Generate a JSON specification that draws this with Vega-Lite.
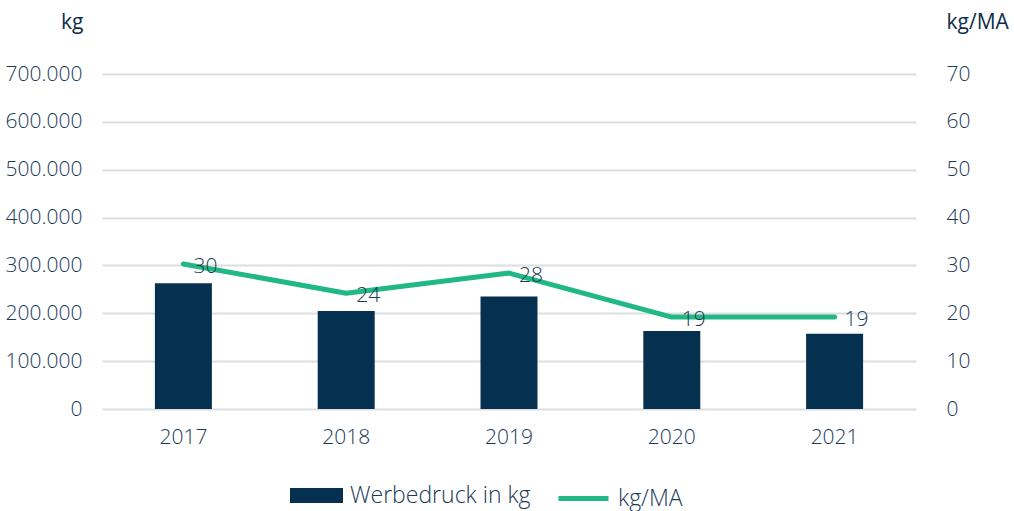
{
  "$schema": "https://vega.github.io/schema/vega-lite/v6.json",
  "width": 814,
  "height": 335,
  "autosize": {"type": "none"},
  "padding": {"left": 102, "top": 74, "right": 98, "bottom": 102},
  "background": "#ffffff",
  "config": {
    "font": "Open Sans",
    "view": {"stroke": null},
    "locale": {"number": {"decimal": ",", "thousands": ".", "grouping": [3], "currency": ["", " €"]}},
    "axis": {
      "labelColor": "#1B3A58",
      "labelFontSize": 21,
      "labelFont": "Open Sans",
      "labelFontWeight": 300,
      "titleColor": "#0E2D4A",
      "titleFont": "Open Sans",
      "titleFontSize": 21,
      "titleFontWeight": "normal",
      "domain": false,
      "ticks": false,
      "gridColor": "#DADDE2",
      "gridWidth": 2
    },
    "legend": {
      "labelColor": "#1B3A58",
      "labelFontSize": 23,
      "labelFont": "Open Sans",
      "labelFontWeight": 300,
      "labelLimit": 400,
      "padding": 0
    }
  },
  "data": {
    "values": [
      {"year": "2017", "kg": 263000, "kgma": 30.3},
      {"year": "2018", "kg": 205000, "kgma": 24.2},
      {"year": "2019", "kg": 235000, "kgma": 28.4},
      {"year": "2020", "kg": 163000, "kgma": 19.2},
      {"year": "2021", "kg": 157000, "kgma": 19.2}
    ]
  },
  "encoding": {
    "x": {
      "field": "year",
      "type": "nominal",
      "scale": {"paddingInner": 0.65, "paddingOuter": 0.325},
      "axis": {"title": null, "labelAngle": 0, "labelPadding": 17, "grid": false}
    }
  },
  "layer": [
    {
      "mark": {"type": "bar", "color": "#06304F"},
      "encoding": {
        "y": {
          "field": "kg",
          "type": "quantitative",
          "scale": {"domain": [0, 700000]},
          "axis": {
            "title": "kg",
            "values": [0, 100000, 200000, 300000, 400000, 500000, 600000, 700000],
            "format": ",d",
            "labelPadding": 20,
            "titleAngle": 0,
            "titleAlign": "right",
            "titleBaseline": "middle",
            "titleX": -19,
            "titleY": -52,
            "grid": true
          }
        },
        "color": {
          "datum": "Werbedruck in kg",
          "scale": {"range": ["#06304F"]},
          "legend": {
            "title": null,
            "orient": "none",
            "legendX": 188,
            "legendY": 395,
            "symbolType": "M-1,-0.283H1V0.283H-1Z",
            "symbolSize": 2809,
            "symbolStrokeWidth": 0,
            "labelOffset": 7
          }
        }
      }
    },
    {
      "mark": {"type": "line", "strokeWidth": 5, "strokeCap": "round", "strokeJoin": "round"},
      "encoding": {
        "y": {
          "field": "kgma",
          "type": "quantitative",
          "scale": {"domain": [0, 70]},
          "axis": {
            "title": "kg/MA",
            "orient": "right",
            "values": [0, 10, 20, 30, 40, 50, 60, 70],
            "labelPadding": 30,
            "titleAngle": 0,
            "titleAlign": "left",
            "titleBaseline": "middle",
            "titleX": 30,
            "titleY": -52,
            "grid": false
          }
        },
        "stroke": {
          "datum": "kg/MA",
          "scale": {"range": ["#21B885"]},
          "legend": {
            "title": null,
            "orient": "none",
            "legendX": 454,
            "legendY": 397,
            "symbolType": "stroke",
            "symbolSize": 2500,
            "symbolStrokeWidth": 5,
            "labelOffset": 7
          }
        }
      }
    },
    {
      "mark": {"type": "text", "align": "left", "baseline": "middle", "dx": 10, "dy": 3, "fontSize": 21, "fontWeight": 300, "color": "#1B3A58"},
      "encoding": {
        "y": {"field": "kgma", "type": "quantitative", "scale": {"domain": [0, 70]}, "axis": null},
        "text": {"field": "kgma", "type": "quantitative", "format": ".0f"}
      }
    }
  ],
  "resolve": {"scale": {"y": "independent"}}
}
